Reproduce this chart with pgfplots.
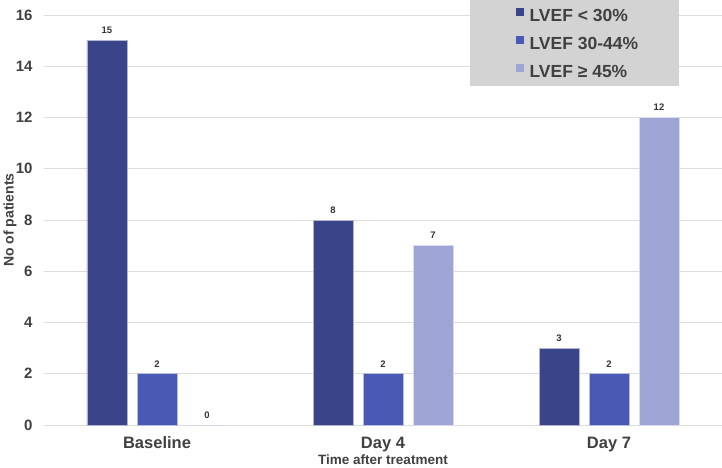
\documentclass[border=0pt]{standalone}
\usepackage{fontspec}
\setmainfont{Liberation Sans}
\usepackage{pgfplots}
\pgfplotsset{compat=1.18}
\definecolor{cA}{HTML}{3A4589}
\definecolor{cB}{HTML}{4A5AB4}
\definecolor{cC}{HTML}{9CA5D3}
\definecolor{txt}{HTML}{404040}
\definecolor{legbg}{HTML}{D3D3D3}
\definecolor{gridc}{HTML}{DDDDDD}
\begin{document}
\begin{tikzpicture}
\useasboundingbox (0,0) rectangle (722pt,467pt);
\begin{axis}[
  at={(44pt,42pt)}, anchor=south west,
  scale only axis, width=678pt, height=410pt,
  ybar=10pt, bar width=40pt,
  xmin=-0.5, xmax=2.5, ymin=0, ymax=16,
  xtick={0,1,2}, xticklabels={Baseline,Day 4,Day 7},
  ytick={0,2,...,16},
  axis line style={draw=none}, tick style={draw=none},
  ymajorgrids, grid style={gridc, line width=1pt},
  /pgf/number format/assume math mode=true,
  yticklabel style={font=\fontsize{15}{17}\selectfont\bfseries, text=txt, xshift=-8pt},
  xticklabel style={font=\fontsize{16.5}{18}\selectfont\bfseries, text=txt, yshift=-4pt},
  xlabel={Time after treatment},
  xlabel style={at={(axis description cs:0.5,0)}, anchor=center, yshift=-35pt, inner sep=0pt, font=\fontsize{13.5}{15}\selectfont\bfseries, text=txt},
  ylabel={No of patients},
  ylabel style={at={(axis description cs:-0.0501,0.5)}, anchor=center, font=\fontsize{14}{16}\selectfont\bfseries, text=txt},
  nodes near coords,
  every node near coord/.append style={font=\fontsize{9.5}{10}\selectfont\bfseries, text=black!80, yshift=3pt},
  clip=false,
  legend cell align=left,
  legend image code/.code={\path[#1, line width=0pt, draw=none] (0pt,-1pt) rectangle (8pt,7pt); \path (11pt,0pt);},
  legend style={at={(0.6962,1.020)}, anchor=north west, draw=none, fill=none,
    font=\fontsize{17.5}{19}\selectfont\bfseries, text=txt, inner sep=0pt,
    nodes={inner sep=2pt, text height=12.5pt, text depth=0pt}, row sep=11.5pt},
]
\fill[legbg] (rel axis cs:0.628,0.827) rectangle (rel axis cs:0.937,1.0366);
\addplot[fill=cA, draw=cA!40!white, line width=0.6pt] coordinates {(0,15) (1,8) (2,3)};
\addplot[fill=cB, draw=cB!40!white, line width=0.6pt] coordinates {(0,2) (1,2) (2,2)};
\addplot[fill=cC, draw=cC!40!white, line width=0.6pt] coordinates {(0,0) (1,7) (2,12)};
\legend{LVEF < 30\%, LVEF 30-44\%, LVEF ≥ 45\%}
\end{axis}
\end{tikzpicture}
\end{document}
